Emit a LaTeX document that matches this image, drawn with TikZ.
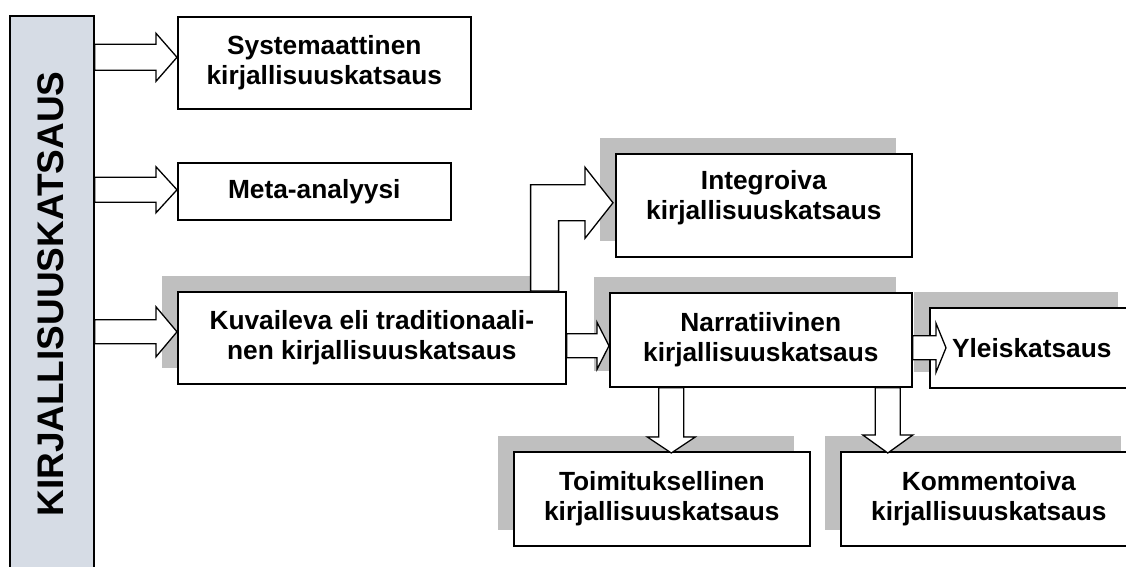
\documentclass[tikz,border=0pt]{standalone}
\usepackage{fontspec}
\setmainfont{Liberation Sans}
\usepackage{xcolor}
\usepackage{tikz}
\usetikzlibrary{positioning,calc,shadows}

\definecolor{barblue}{RGB}{214,220,229}
\definecolor{shadowgray}{RGB}{191,191,191}

\newcommand{\boxfont}{\fontsize{26.3}{30}\selectfont\bfseries}
\newcommand{\barfont}{\fontsize{37}{40}\selectfont\bfseries}

% block arrow to the right: start, tip, shaft half, head half, head length
\newcommand{\hblock}[5]{%
  \draw[blockarrow] let \p1=(#1), \p2=(#2) in
    (\x1,\y2+#3) -- (\x2-#5,\y2+#3) -- (\x2-#5,\y2+#4) -- (\x2,\y2)
    -- (\x2-#5,\y2-#4) -- (\x2-#5,\y2-#3) -- (\x1,\y2-#3) -- cycle;}
% block arrow downwards: start, tip, shaft half, head half, head length
\newcommand{\vblock}[5]{%
  \draw[blockarrow] let \p1=(#1), \p2=(#2) in
    (\x2-#3,\y1) -- (\x2-#3,\y2+#5) -- (\x2-#4,\y2+#5) -- (\x2,\y2)
    -- (\x2+#4,\y2+#5) -- (\x2+#3,\y2+#5) -- (\x2+#3,\y1) -- cycle;}

\begin{document}
\begin{tikzpicture}[x=1pt, y=-1pt,
  typebox/.style={draw, line width=1.6pt, fill=white, align=center, font=\boxfont, inner sep=0pt, anchor=north west},
  shaded/.style={typebox, general shadow={fill=shadowgray, shadow xshift=-16pt, shadow yshift=16pt}},
  blockarrow/.style={draw, fill=white, line width=1.3pt, line join=miter}]
\useasboundingbox (0,0) rectangle (1126,567);

% left bar
\node[draw, line width=1.6pt, fill=barblue, minimum width=84pt, minimum height=570pt, anchor=north west, inner sep=0pt] (lit) at (9,15) {};
\node[rotate=90, font=\barfont] (littitle) at (50.5,294) {KIRJALLISUUSKATSAUS};

% boxes
\node[typebox, minimum width=293pt, minimum height=92pt] (syst) at (177,16) {Systemaattinen\\kirjallisuuskatsaus};
\node[typebox, minimum width=273pt, minimum height=57pt] (meta) at (177,162) {Meta-analyysi};
\node[shaded, minimum width=388pt, minimum height=92pt] (kuv) at (177,291) {Kuvaileva eli traditionaali-\\nen kirjallisuuskatsaus};
\node[shaded, minimum width=296pt, minimum height=103pt, text depth=21pt] (integ) at (615,153) {Integroiva\\kirjallisuuskatsaus};
\node[shaded, minimum width=302pt, minimum height=94pt] (narr) at (609,292) {Narratiivinen\\kirjallisuuskatsaus};
\node[shaded, minimum width=204pt, minimum height=80pt] (yleis) at (929,307) {Yleiskatsaus};
\node[shaded, minimum width=296pt, minimum height=94pt] (toim) at (513,451) {Toimituksellinen\\kirjallisuuskatsaus};
\node[shaded, minimum width=296pt, minimum height=94pt] (komm) at (840,451) {Kommentoiva\\kirjallisuuskatsaus};

% arrows
\hblock{lit.east}{[yshift=5.5pt]syst.west}{13pt}{24pt}{21pt}
\hblock{lit.east}{[yshift=1.5pt]meta.west}{12.5pt}{23pt}{21pt}
\hblock{lit.east}{[yshift=6pt]kuv.west}{12pt}{25pt}{21pt}
\hblock{kuv.east}{[yshift=-6pt]narr.west}{12pt}{23.5pt}{12pt}
\hblock{narr.east}{[xshift=17pt]yleis.west}{12pt}{24.5pt}{10pt}
\vblock{narr.south}{[xshift=9.5pt,yshift=-2pt]toim.north}{12.5pt}{24pt}{16pt}
\vblock{narr.south}{[xshift=-101pt,yshift=-2pt]komm.north}{12.5pt}{25pt}{18pt}
\draw[blockarrow] let \p1=([xshift=-22pt]kuv.north east), \p2=([xshift=-2pt,yshift=2.5pt]integ.west) in
  (\x1-14pt,\y1) -- (\x1-14pt,\y2+18pt) -- (\x2-28pt,\y2+18pt) -- (\x2-28pt,\y2+35.5pt) -- (\p2)
  -- (\x2-28pt,\y2-35.5pt) -- (\x2-28pt,\y2-18pt) -- (\x1+14pt,\y2-18pt) -- (\x1+14pt,\y1) -- cycle;
\end{tikzpicture}
\end{document}
